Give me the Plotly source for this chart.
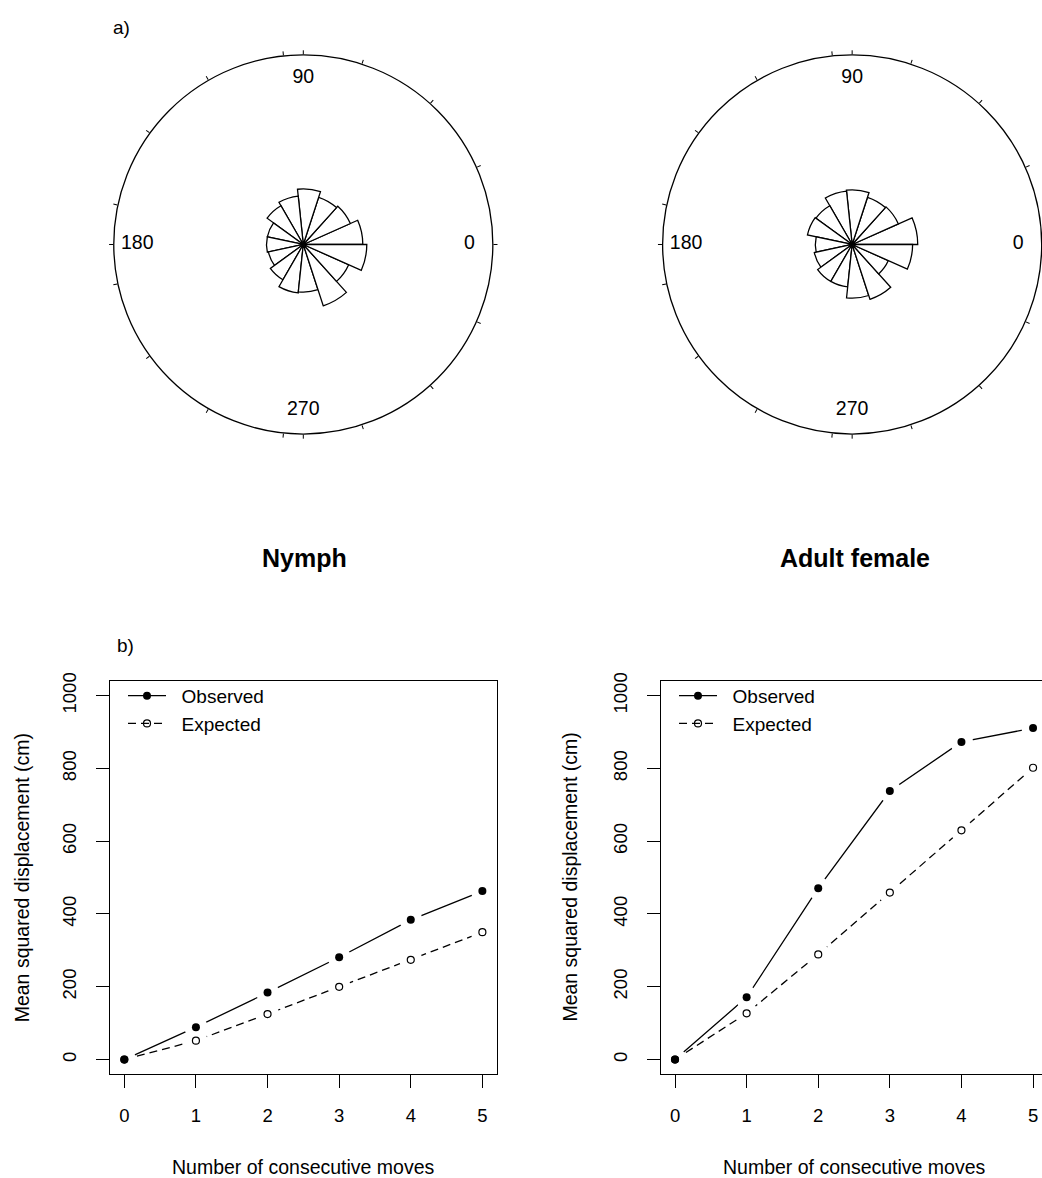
import plotly.graph_objects as go

# ---------------- data ----------------
# Rose diagrams: 15 direction classes of 24 degrees, radii as a fraction of the outer circle
bin_centres = [12, 36, 60, 84, 108, 132, 156, 180, 204, 228, 252, 276, 300, 324, 348]
nymph_rose = [0.314, 0.272, 0.262, 0.293, 0.257, 0.236, 0.194, 0.194,
              0.188, 0.215, 0.257, 0.251, 0.340, 0.262, 0.335]
adult_rose = [0.346, 0.267, 0.262, 0.288, 0.283, 0.236, 0.241, 0.194,
              0.204, 0.225, 0.225, 0.283, 0.304, 0.209, 0.319]
rose_ticks = [0, 24, 48, 72, 96, 120, 144, 168, 192, 216, 240, 264, 288, 312, 336, 90, 180, 270]
rose_labels = ["0", "90", "180", "270"]
rose_label_angles = [0, 90, 180, 270]

# Mean squared displacement against number of consecutive moves
moves = [0, 1, 2, 3, 4, 5]
nymph_observed = [0, 89, 184, 281, 384, 463]
nymph_expected = [0, 52, 125, 200, 274, 350]
adult_observed = [0, 171, 471, 738, 873, 911]
adult_expected = [0, 127, 289, 459, 630, 802]
y_ticks = [0, 200, 400, 600, 800, 1000]

W, H = 1042, 1178
FONT = "Liberation Sans, Arial, Helvetica, sans-serif"
NB = "\u00a0\u00a0"  # small gap between legend key and label


def px(x):
    return x / W


def py(y):
    return 1 - y / H


fig = go.Figure()

# ---------------- rose diagrams ----------------
for name, vals in (("polar", nymph_rose), ("polar2", adult_rose)):
    fig.add_trace(go.Barpolar(
        r=vals, theta=bin_centres, width=[24] * len(vals),
        marker=dict(color="white", line=dict(color="black", width=1.3)),
        subplot=name, showlegend=False, hoverinfo="skip"))
    fig.add_trace(go.Scatterpolar(
        r=[0.876] * 4, theta=rose_label_angles, text=rose_labels,
        mode="text", textfont=dict(family=FONT, size=19.5, color="black"),
        subplot=name, showlegend=False, hoverinfo="skip"))

polar_common = dict(
    bgcolor="white",
    radialaxis=dict(visible=False, range=[0, 1]),
    angularaxis=dict(rotation=0, direction="counterclockwise",
                     tickmode="array", tickvals=rose_ticks,
                     ticks="outside", ticklen=4, tickwidth=1, tickcolor="black",
                     showticklabels=False, showgrid=False,
                     showline=True, linecolor="black", linewidth=1.3),
)


# ---------------- displacement panels ----------------
def add_panel(obs, exp, xa, ya, xo, yo, legend):
    # connecting lines (these also carry the legend entries)
    fig.add_trace(go.Scatter(
        x=moves, y=obs, mode="lines+markers", name=NB + "Observed",
        line=dict(color="black", width=1.3),
        marker=dict(color="black", size=8),
        xaxis=xa, yaxis=ya, legend=legend, hoverinfo="skip"))
    fig.add_trace(go.Scatter(
        x=moves, y=exp, mode="lines+markers", name=NB + "Expected",
        line=dict(color="black", width=1.3, dash="8px,5px"),
        marker=dict(symbol="circle-open", color="black", size=7, line=dict(width=1.2)),
        xaxis=xa, yaxis=ya, legend=legend, hoverinfo="skip"))
    # points on an overlaid layer, each with a white halo that breaks the line
    for vals in (obs, exp):
        fig.add_trace(go.Scatter(
            x=moves, y=vals, mode="markers",
            marker=dict(color="white", size=23, line=dict(width=0)),
            xaxis=xo, yaxis=yo, showlegend=False, hoverinfo="skip"))
    fig.add_trace(go.Scatter(
        x=moves, y=exp, mode="markers",
        marker=dict(symbol="circle-open", color="black", size=7, line=dict(width=1.2)),
        xaxis=xo, yaxis=yo, showlegend=False, hoverinfo="skip"))
    fig.add_trace(go.Scatter(
        x=moves, y=obs, mode="markers",
        marker=dict(color="black", size=8),
        xaxis=xo, yaxis=yo, showlegend=False, hoverinfo="skip"))


add_panel(nymph_observed, nymph_expected, "x", "y", "x3", "y3", "legend")
add_panel(adult_observed, adult_expected, "x2", "y2", "x4", "y4", "legend2")

axis_font = dict(family=FONT, size=18.5, color="black")
x_common = dict(tickmode="array", tickvals=moves, ticks="outside", ticklen=13,
                tickwidth=1.3, tickcolor="black", showgrid=False, zeroline=False,
                showline=True, linecolor="black", linewidth=1.3, mirror=True,
                tickfont=axis_font, ticklabelstandoff=12, fixedrange=True)
y_common = dict(tickmode="array", tickvals=y_ticks, range=[-40, 1040],
                ticks="outside", ticklen=13, tickwidth=1.3, tickcolor="black",
                showgrid=False, zeroline=False, showline=True, linecolor="black",
                linewidth=1.3, tickangle=-90, tickfont=axis_font,
                ticklabelstandoff=12, fixedrange=True)
hidden = dict(visible=False, showgrid=False, zeroline=False, fixedrange=True)

legend_common = dict(xanchor="left", yanchor="top", bgcolor="rgba(0,0,0,0)",
                     font=dict(family=FONT, size=19, color="black"),
                     itemwidth=38, tracegroupgap=0, borderwidth=0)

text_font = dict(family=FONT, size=19, color="black")
annotations = [
    dict(text="a)", x=px(121.7), y=py(18.3)),
    dict(text="b)", x=px(125), y=py(641)),
    dict(text="<b>Nymph</b>", x=px(304), y=py(553), font=dict(family=FONT, size=25, color="black")),
    dict(text="<b>Adult female</b>", x=px(855), y=py(553), font=dict(family=FONT, size=25, color="black")),
    dict(text="Mean squared displacement (cm)", x=px(21.7), y=py(875.3), textangle=-90,
         font=dict(family=FONT, size=19.5, color="black")),
    dict(text="Mean squared displacement (cm)", x=px(570), y=py(875.3), textangle=-90,
         font=dict(family=FONT, size=19.5, color="black")),
    dict(text="Number of consecutive moves", x=px(303.4), y=py(1166.7),
         font=dict(family=FONT, size=19.5, color="black")),
    dict(text="Number of consecutive moves", x=px(854), y=py(1166.7),
         font=dict(family=FONT, size=19.5, color="black")),
]
for a in annotations:
    a.setdefault("font", text_font)
    a.update(xref="paper", yref="paper", showarrow=False, xanchor="center", yanchor="middle")

left_x = [px(110), px(496.7)]
right_x = [px(660.7), 1.0]
panel_y = [py(1073.3), py(677.3)]

fig.update_layout(
    width=W, height=H, margin=dict(l=0, r=0, t=0, b=0),
    paper_bgcolor="white", plot_bgcolor="white",
    font=dict(family=FONT, color="black"),
    polar=dict(domain=dict(x=[px(303.3 - 191), px(303.3 + 191)],
                           y=[py(237.3 + 191), py(237.3 - 191)]), **polar_common),
    polar2=dict(domain=dict(x=[px(662.3), 1.0],
                            y=[py(237.3 + 191), py(237.3 - 191)]), **polar_common),
    xaxis=dict(domain=left_x, range=[-0.2, 5.2], anchor="y", **x_common),
    yaxis=dict(domain=panel_y, anchor="x", mirror=True, **y_common),
    xaxis2=dict(domain=right_x, range=[-0.2, 5.125], anchor="y2", **x_common),
    yaxis2=dict(domain=panel_y, anchor="x2", mirror=False, **y_common),
    xaxis3=dict(overlaying="x", anchor="y3", range=[-0.2, 5.2], domain=left_x, **hidden),
    yaxis3=dict(overlaying="y", anchor="x3", range=[-40, 1040], domain=panel_y, **hidden),
    xaxis4=dict(overlaying="x2", anchor="y4", range=[-0.2, 5.125], domain=right_x, **hidden),
    yaxis4=dict(overlaying="y2", anchor="x4", range=[-40, 1040], domain=panel_y, **hidden),
    legend=dict(x=px(123), y=py(673), **legend_common),
    legend2=dict(x=px(674), y=py(673), **legend_common),
    annotations=annotations,
    showlegend=True,
)

fig.write_html("out.html")
